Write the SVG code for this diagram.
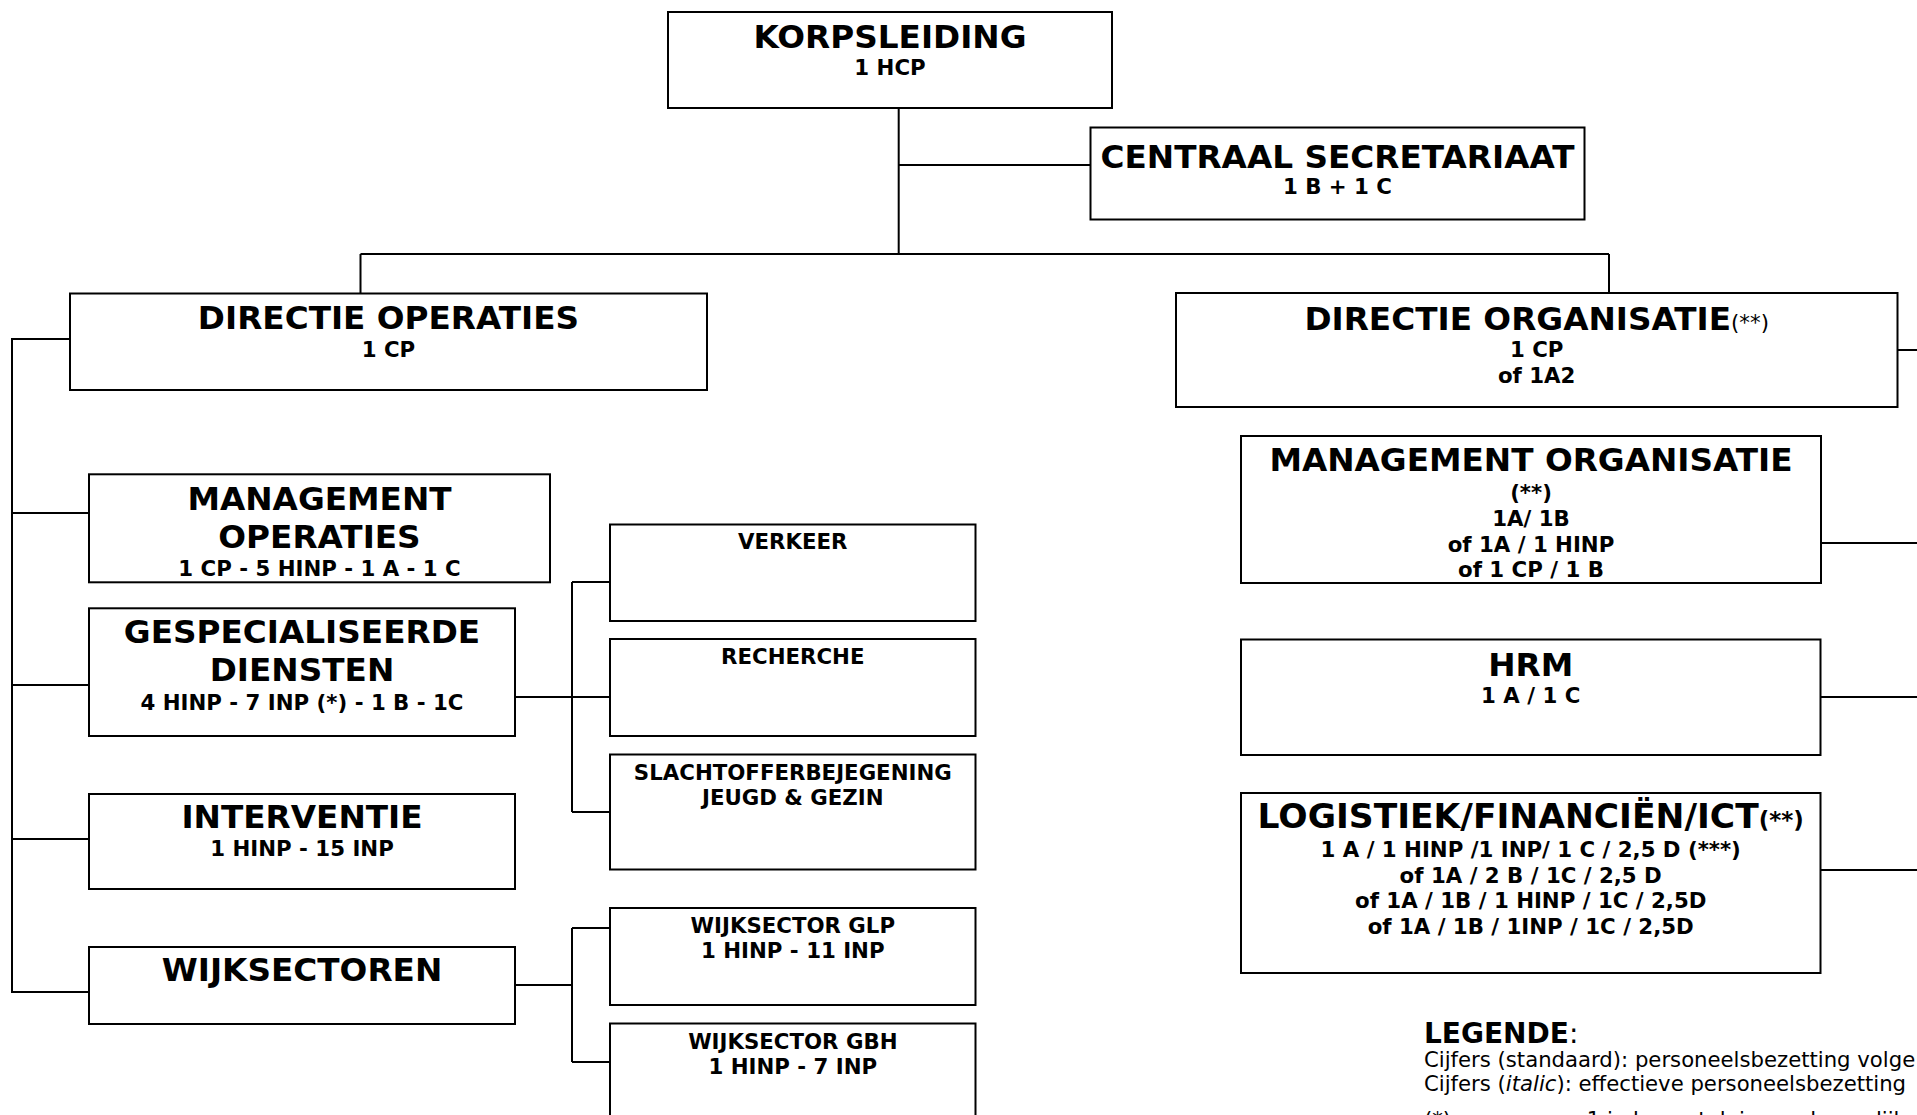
<svg xmlns="http://www.w3.org/2000/svg" width="1917" height="1115" viewBox="0 0 1917 1115">
<style>
.box{fill:#fff;stroke:#000;stroke-width:2}
.ln{fill:none;stroke:#000;stroke-width:2}
text{font-family:"DejaVu Sans",Verdana,sans-serif;fill:#000}
.t{font-weight:bold;text-anchor:middle}
.b{font-size:32.7px}
.s{font-size:21.3px}
.rg{font-weight:normal}
.lg{font-size:21.2px}
</style>
<rect width="1917" height="1115" fill="#fff"/>
<g id="connectors" class="ln">
<path d="M898.7 108V254M898.7 165H1090.5M360.5 254H1609M360.5 254V293.5M1609 254V293"/>
<path d="M70 339H12V992H89M12 513H89M12 685H89M12 839H89"/>
<path d="M515 697H610M572 582V812M572 582H610M572 812H610"/>
<path d="M515 985H572M572 928V1062M572 928H610M572 1062H610"/>
<path d="M1897.5 350H1917M1821 543H1917M1820.5 697H1917M1820.5 870H1917"/>
</g>
<g id="korpsleiding">
<rect class="box" x="668" y="12" width="444" height="96"/>
<text class="t b" x="890" y="47.5">KORPSLEIDING</text>
<text class="t s" x="890" y="75">1 HCP</text>
</g>
<g id="centraal-secretariaat">
<rect class="box" x="1090.5" y="127.5" width="494" height="92"/>
<text class="t b" x="1337.5" y="167.5">CENTRAAL SECRETARIAAT</text>
<text class="t s" x="1337.5" y="194">1 B + 1 C</text>
</g>
<g id="directie-operaties">
<rect class="box" x="70" y="293.5" width="637" height="96.5"/>
<text class="t b" x="388.5" y="328.5">DIRECTIE OPERATIES</text>
<text class="t s" x="388.5" y="357">1 CP</text>
</g>
<g id="directie-organisatie">
<rect class="box" x="1176" y="293" width="721.5" height="114"/>
<text class="t b" x="1536.7" y="329.5">DIRECTIE ORGANISATIE<tspan class="rg s">(**)</tspan></text>
<text class="t s" x="1536.7" y="357">1 CP</text>
<text class="t s" x="1536.7" y="382.5">of 1A2</text>
</g>
<g id="management-operaties">
<rect class="box" x="89" y="474.3" width="461" height="108"/>
<text class="t b" x="319.5" y="509.5">MANAGEMENT</text>
<text class="t b" x="319.5" y="547.5">OPERATIES</text>
<text class="t s" x="319.5" y="575.5">1 CP - 5 HINP - 1 A - 1 C</text>
</g>
<g id="gespecialiseerde-diensten">
<rect class="box" x="89" y="608.3" width="426" height="127.7"/>
<text class="t b" x="302" y="642.5">GESPECIALISEERDE</text>
<text class="t b" x="302" y="681">DIENSTEN</text>
<text class="t s" x="302" y="710">4 HINP - 7 INP (*) - 1 B - 1C</text>
</g>
<g id="interventie">
<rect class="box" x="89" y="794" width="426" height="95"/>
<text class="t b" x="302" y="827.5">INTERVENTIE</text>
<text class="t s" x="302" y="856">1 HINP - 15 INP</text>
</g>
<g id="wijksectoren">
<rect class="box" x="89" y="947" width="426" height="77"/>
<text class="t b" x="302" y="981">WIJKSECTOREN</text>
</g>
<g id="verkeer">
<rect class="box" x="610" y="524.5" width="365.5" height="96.5"/>
<text class="t s" x="792.8" y="549">VERKEER</text>
</g>
<g id="recherche">
<rect class="box" x="610" y="639" width="365.5" height="97"/>
<text class="t s" x="792.8" y="663.5">RECHERCHE</text>
</g>
<g id="slachtofferbejegening">
<rect class="box" x="610" y="754.5" width="365.5" height="115"/>
<text class="t s" x="792.8" y="779.5">SLACHTOFFERBEJEGENING</text>
<text class="t s" x="792.8" y="805">JEUGD &amp; GEZIN</text>
</g>
<g id="wijksector-glp">
<rect class="box" x="610" y="908" width="365.5" height="97"/>
<text class="t s" x="792.8" y="932.5">WIJKSECTOR GLP</text>
<text class="t s" x="792.8" y="958">1 HINP - 11 INP</text>
</g>
<g id="wijksector-gbh">
<rect class="box" x="610" y="1023.5" width="365.5" height="120"/>
<text class="t s" x="792.8" y="1049">WIJKSECTOR GBH</text>
<text class="t s" x="792.8" y="1074">1 HINP - 7 INP</text>
</g>
<g id="management-organisatie">
<rect class="box" x="1241" y="436" width="580" height="147"/>
<text class="t b" x="1531" y="471">MANAGEMENT ORGANISATIE</text>
<text class="t s" x="1531" y="500">(**)</text>
<text class="t s" x="1531" y="526">1A/ 1B</text>
<text class="t s" x="1531" y="551.5">of 1A / 1 HINP</text>
<text class="t s" x="1531" y="577">of 1 CP / 1 B</text>
</g>
<g id="hrm">
<rect class="box" x="1241" y="639.5" width="579.5" height="115.5"/>
<text class="t b" x="1530.7" y="675.5">HRM</text>
<text class="t s" x="1530.7" y="702.5">1 A / 1 C</text>
</g>
<g id="logistiek">
<rect class="box" x="1241" y="793" width="579.5" height="180"/>
<text class="t" x="1530.7" y="828" style="font-size:34.5px">LOGISTIEK/FINANCIËN/ICT<tspan style="font-size:23px">(**)</tspan></text>
<text class="t s" x="1530.7" y="856.5">1 A / 1 HINP /1 INP/ 1 C / 2,5 D (***)</text>
<text class="t s" x="1530.7" y="882.5">of 1A / 2 B / 1C / 2,5 D</text>
<text class="t s" x="1530.7" y="908">of 1A / 1B / 1 HINP / 1C / 2,5D</text>
<text class="t s" x="1530.7" y="934">of 1A / 1B / 1INP / 1C / 2,5D</text>
</g>
<g id="legende">
<text x="1424" y="1043" style="font-size:28px"><tspan font-weight="bold">LEGENDE</tspan>:</text>
<text class="lg" x="1424" y="1067">Cijfers (standaard): personeelsbezetting volge</text>
<text class="lg" x="1424" y="1091">Cijfers (<tspan font-style="italic">italic</tspan>): effectieve personeelsbezetting</text>
<text class="lg" x="1424" y="1127">(*)</text>
<text class="lg" x="1489" y="1127">waarvan 1 in bovental, ingevolge gelijk</text>
</g>
</svg>
